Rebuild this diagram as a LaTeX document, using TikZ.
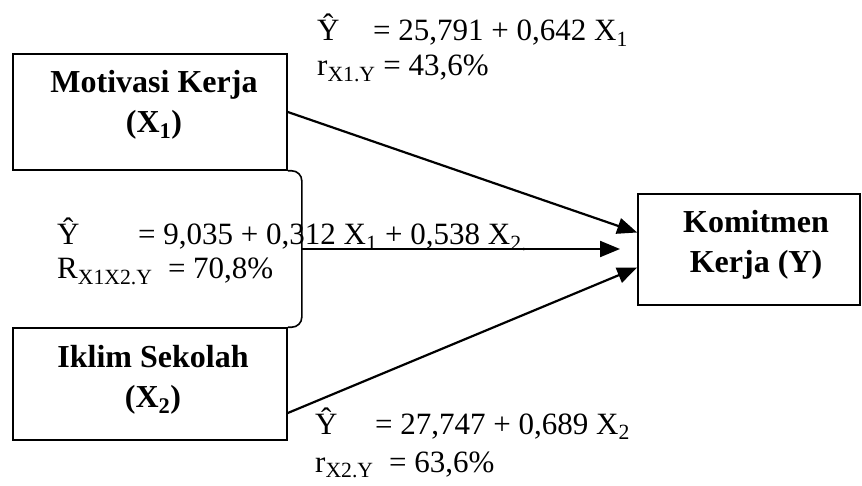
\documentclass[tikz,border=0pt]{standalone}
\usepackage{fontspec}
\setmainfont{Liberation Serif}
\usepackage{tikz}
\usetikzlibrary{arrows.meta,calc}

\begin{document}
\begin{tikzpicture}[x=1pt,y=-1pt,
	var_box/.style={draw,line width=1.6pt,inner sep=0pt},
	var_text/.style={font=\fontsize{32}{40}\selectfont\bfseries,align=center},
	eq_text/.style={anchor=base west,inner sep=0pt,font=\fontsize{31}{36}\selectfont},
	path_arrow/.style={line width=2.2pt,-{Triangle[length=20pt,width=16pt]}}]
	\useasboundingbox (0,0) rectangle (862,486);
	\node[var_box,minimum width=274pt,minimum height=116pt] (x1) at (150,112) {};
	\node[var_box,minimum width=274pt,minimum height=112pt] (x2) at (150,384) {};
	\node[var_box,minimum width=222pt,minimum height=111pt] (y) at (749,249.5) {};
	\node[var_text] (x1txt) at (154,105) {Motivasi Kerja\\(X\textsubscript{1})};
	\node[var_text] (x2txt) at (153,380) {Iklim Sekolah\\(X\textsubscript{2})};
	\node[var_text] (ytxt) at (756,245) {Komitmen\\Kerja (Y)};
	
	% bracket joining X1 and X2
	\draw[line width=1.6pt,rounded corners=10pt] (x1.south east) -- ++(14,0) coordinate (brk) |- (x2.north east);
	\coordinate (tip) at (620,249);
	
	\draw[path_arrow] (x1.east) -- ($(y.west)+(0,-17)$);
	\draw[path_arrow] (brk|-tip) -- (tip);
	\draw[path_arrow] ($(x2.east)+(0,29)$) -- ($(y.west)+(0,18)$);
	
	\node[eq_text] (eq1a) at (317,41) {\makebox[56pt][l]{Ŷ}= 25,791 + 0,642 X\textsubscript{1}};
	\node[eq_text] (eq1b) at (317,76) {r\textsubscript{X1.Y} = 43,6\%};
	\node[eq_text] (eq2a) at (57,245) {\makebox[81pt][l]{Ŷ}= 9,035 + 0,312 X\textsubscript{1} + 0,538 X\textsubscript{2.}};
	\node[eq_text] (eq2b) at (57,279) {R\textsubscript{X1X2.Y}\ \ = 70,8\%};
	\node[eq_text] (eq3a) at (315,434) {\makebox[60pt][l]{Ŷ}= 27,747 + 0,689 X\textsubscript{2}};
	\node[eq_text] (eq3b) at (315,472) {r\textsubscript{X2.Y}\ \ = 63,6\%};
\end{tikzpicture}
\end{document}
